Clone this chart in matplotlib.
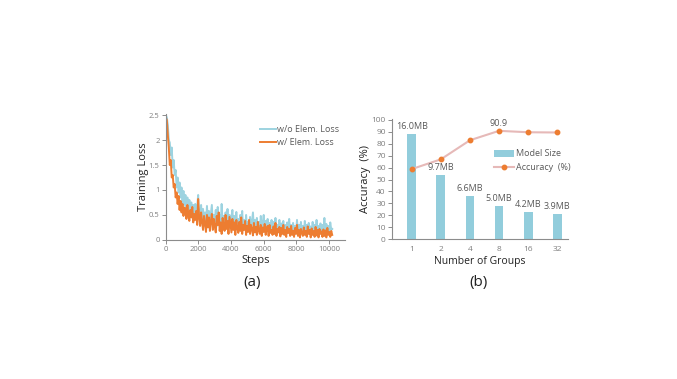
import matplotlib
matplotlib.use("Agg")
import matplotlib.pyplot as plt
import numpy as np
from matplotlib.lines import Line2D
from matplotlib.patches import Patch

plt.rcParams['font.family'] = ['Open Sans', 'DejaVu Sans']

# ---------------- data ----------------
step_interval = 60
loss_wo_elem = [
    2.5, 2.45, 2.3, 2.0, 1.95, 1.7, 1.85, 1.45, 1.6, 1.3,
    1.4, 1.05, 1.25, 0.95, 1.15, 0.85, 1.05, 0.75, 0.98, 0.7,
    0.9, 0.62, 0.85, 0.55, 0.8, 0.6, 0.75, 0.5, 0.7, 0.48,
    0.72, 0.45, 0.65, 0.9, 0.5, 0.42, 0.7, 0.4, 0.62, 0.35,
    0.55, 0.32, 0.68, 0.3, 0.58, 0.35, 0.52, 0.7, 0.3, 0.5,
    0.38, 0.6, 0.28, 0.66, 0.32, 0.5, 0.26, 0.72, 0.3, 0.48,
    0.25, 0.55, 0.3, 0.62, 0.22, 0.5, 0.28, 0.45, 0.6, 0.24,
    0.48, 0.2, 0.56, 0.26, 0.42, 0.22, 0.5, 0.28, 0.58, 0.2,
    0.4, 0.22, 0.5, 0.18, 0.36, 0.25, 0.46, 0.2, 0.38, 0.55,
    0.2, 0.4, 0.18, 0.44, 0.22, 0.36, 0.18, 0.48, 0.2, 0.34,
    0.5, 0.17, 0.38, 0.2, 0.42, 0.16, 0.34, 0.22, 0.4, 0.15,
    0.36, 0.2, 0.44, 0.16, 0.3, 0.18, 0.4, 0.15, 0.33, 0.2,
    0.38, 0.14, 0.3, 0.18, 0.35, 0.15, 0.42, 0.16, 0.3, 0.13,
    0.34, 0.16, 0.28, 0.14, 0.4, 0.15, 0.3, 0.13, 0.36, 0.16,
    0.28, 0.13, 0.38, 0.15, 0.3, 0.12, 0.34, 0.16, 0.27, 0.14,
    0.36, 0.13, 0.3, 0.15, 0.4, 0.12, 0.28, 0.16, 0.33, 0.13,
    0.3, 0.15, 0.44, 0.13, 0.32, 0.16, 0.28, 0.14, 0.35, 0.2,
    0.22,
]
loss_w_elem = [
    2.45, 2.4, 2.1, 1.85, 1.5, 1.6, 1.25, 1.3, 1.05, 1.12,
    0.85, 0.95, 0.72, 0.88, 0.6, 0.78, 0.55, 0.72, 0.48, 0.65,
    0.62, 0.42, 0.7, 0.5, 0.38, 0.6, 0.45, 0.66, 0.35, 0.52,
    0.4, 0.58, 0.3, 0.82, 0.45, 0.28, 0.55, 0.36, 0.2, 0.48,
    0.32, 0.16, 0.5, 0.25, 0.45, 0.18, 0.38, 0.52, 0.2, 0.42,
    0.26, 0.15, 0.48, 0.3, 0.55, 0.18, 0.35, 0.12, 0.44, 0.28,
    0.18, 0.5, 0.22, 0.38, 0.12, 0.46, 0.3, 0.15, 0.42, 0.2,
    0.35, 0.1, 0.4, 0.24, 0.14, 0.36, 0.18, 0.45, 0.12, 0.3,
    0.2, 0.38, 0.1, 0.28, 0.16, 0.4, 0.12, 0.3, 0.22, 0.09,
    0.34, 0.15, 0.26, 0.1, 0.36, 0.18, 0.12, 0.3, 0.08, 0.25,
    0.16, 0.32, 0.1, 0.22, 0.28, 0.08, 0.3, 0.14, 0.2, 0.1,
    0.27, 0.12, 0.34, 0.08, 0.22, 0.15, 0.26, 0.07, 0.24, 0.12,
    0.3, 0.1, 0.2, 0.06, 0.26, 0.14, 0.22, 0.08, 0.28, 0.1,
    0.18, 0.06, 0.24, 0.12, 0.3, 0.08, 0.2, 0.05, 0.22, 0.14,
    0.08, 0.25, 0.1, 0.18, 0.06, 0.27, 0.12, 0.2, 0.05, 0.23,
    0.1, 0.18, 0.06, 0.26, 0.09, 0.2, 0.05, 0.22, 0.12, 0.17,
    0.06, 0.21, 0.08, 0.19, 0.05, 0.24, 0.1, 0.16, 0.06, 0.18,
    0.1,
]

groups = ['1', '2', '4', '8', '16', '32']
model_size_bar = [88, 53.5, 36.5, 27.5, 23, 21.5]
model_size_labels = ['16.0MB', '9.7MB', '6.6MB', '5.0MB', '4.2MB', '3.9MB']
accuracy = [58.8, 67, 83, 90.9, 89.7, 89.5]

# ---------------- style ----------------
BLUE_LINE = '#9dd3e0'
ORANGE = '#ed7d31'
BAR = '#92cddc'
PINK = '#e6b9b8'
TICK = '#7f7f7f'
TXT = '#222222'
SPINE = '#8c8c8c'

fig = plt.figure(figsize=(6.77, 3.79), dpi=100)

# ---------------- (a) ----------------
ax1 = fig.add_axes([0.245, 0.367, 0.265, 0.332])
ax1.plot(np.arange(len(loss_wo_elem)) * step_interval, loss_wo_elem,
         color=BLUE_LINE, lw=1.4, label='w/o Elem. Loss')
ax1.plot(np.arange(len(loss_w_elem)) * step_interval, loss_w_elem,
         color=ORANGE, lw=1.4, label='w/ Elem. Loss')
ax1.set_xlim(0, 11000)
ax1.set_ylim(0, 2.52)
ax1.set_xticks([0, 2000, 4000, 6000, 8000, 10000])
ax1.set_yticks([0, 0.5, 1, 1.5, 2, 2.5])
ax1.set_yticklabels(['0', '0.5', '1', '1.5', '2', '2.5'])
for s in ['top', 'right']:
    ax1.spines[s].set_visible(False)
for s in ['left', 'bottom']:
    ax1.spines[s].set_color(SPINE)
    ax1.spines[s].set_linewidth(0.8)
ax1.tick_params(axis='both', labelsize=5.5, colors=SPINE, labelcolor=TICK,
                length=3, width=0.7, pad=1.5)
ax1.set_xlabel('Steps', fontsize=8, color=TXT, labelpad=1)
ax1.set_ylabel('Training Loss', fontsize=8, color=TXT, labelpad=0)
leg1 = ax1.legend(loc='upper right', bbox_to_anchor=(0.986, 0.94), frameon=False,
                  fontsize=6.5, handlelength=1.8, handletextpad=0.1,
                  labelspacing=0.45, borderaxespad=0)
for t in leg1.get_texts():
    t.set_color('#595959')
fig.text(0.372, 0.255, '(a)', ha='center', va='center', fontsize=11, color=TXT)

# ---------------- (b) ----------------
ax2 = fig.add_axes([0.579, 0.369, 0.260, 0.316])
x = np.arange(len(groups))
ax2.bar(x, model_size_bar, width=0.3, color=BAR, zorder=2)
ax2.plot(x, accuracy, color=PINK, lw=1.5, marker='o', markersize=3.2,
         markerfacecolor=ORANGE, markeredgecolor=ORANGE, zorder=3)
for xi, h, lab in zip(x, model_size_bar, model_size_labels):
    ax2.text(xi, h + 2.5, lab, ha='center', va='bottom', fontsize=6.5, color='#595959')
best = int(np.argmax(accuracy))
ax2.text(x[best], accuracy[best] + 2.2, f'{accuracy[best]:.1f}', ha='center',
         va='bottom', fontsize=6.5, color='#595959')
ax2.set_xlim(-0.68, 5.37)
ax2.set_ylim(0, 100.5)
ax2.set_xticks(x)
ax2.set_xticklabels(groups)
ax2.set_yticks(np.arange(0, 101, 10))
for s in ['top', 'right']:
    ax2.spines[s].set_visible(False)
for s in ['left', 'bottom']:
    ax2.spines[s].set_color(SPINE)
    ax2.spines[s].set_linewidth(0.8)
ax2.tick_params(axis='y', labelsize=6, colors=SPINE, labelcolor=TICK,
                length=3, width=0.7, pad=1.5)
ax2.tick_params(axis='x', labelsize=6, colors=SPINE, labelcolor=TICK,
                length=0, pad=5)
ax2.set_xlabel('Number of Groups', fontsize=7.5, color=TXT, labelpad=2)
ax2.set_ylabel('Accuracy  (%)', fontsize=8, color=TXT, labelpad=0)
handles = [Patch(facecolor=BAR, edgecolor='none'),
           Line2D([0], [0], color=PINK, lw=1.5, marker='o', markersize=3.2,
                  markerfacecolor=ORANGE, markeredgecolor=ORANGE)]
leg2 = ax2.legend(handles, ['Model Size', 'Accuracy  (%)'], loc='upper left',
                  bbox_to_anchor=(0.56, 0.78), frameon=False, fontsize=6.5,
                  handlelength=2.2, handleheight=0.8, handletextpad=0.2,
                  labelspacing=0.5, borderaxespad=0)
for t in leg2.get_texts():
    t.set_color('#595959')
fig.text(0.707, 0.255, '(b)', ha='center', va='center', fontsize=11, color=TXT)

fig.savefig('out.png', dpi=100)
